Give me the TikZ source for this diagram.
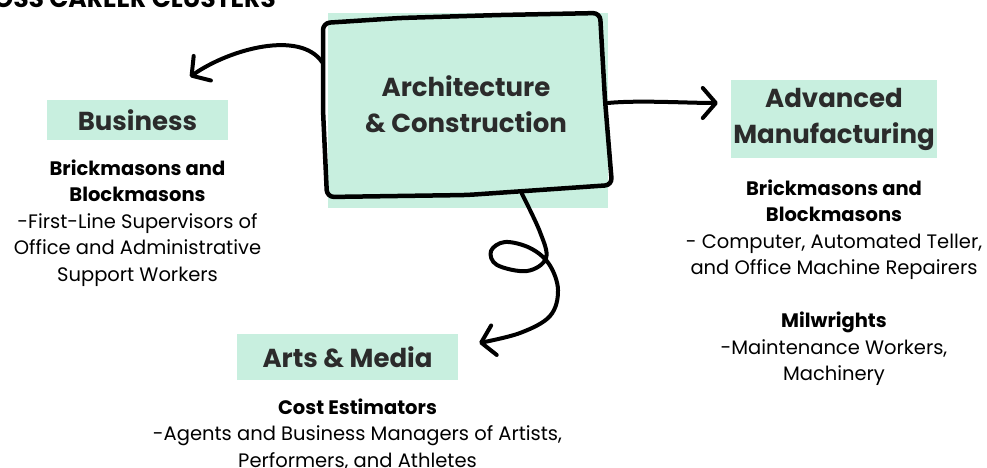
\documentclass[tikz,border=0pt]{standalone}
\usepackage{fontspec}
\setmainfont{Poppins}
\usepackage{xcolor}
\usetikzlibrary{arrows.meta, positioning}
\definecolor{mint}{HTML}{C8EFDF}
\definecolor{ink}{HTML}{2B2B2B}

\begin{document}
\begin{tikzpicture}[
    x=1pt, y=-1pt,
    box/.style={rectangle, fill=mint, text=ink, align=center, inner sep=0pt, font=\fontsize{26}{36}\selectfont\bfseries},
    body/.style={align=center, inner sep=0pt, text=black, font=\fontsize{19.5}{26.5}\selectfont},
    line/.style={draw, line width=4pt, line cap=round, line join=round, -{Straight Barb[length=13pt, width=30pt, round]}},
    outline/.style={draw, line width=4.5pt, rounded corners=7pt, line join=round},
    title/.style={inner sep=0pt, font=\fontsize{25}{30}\selectfont\bfseries}
]
    \useasboundingbox (0,0) rectangle (987,467);
    \clip (0,0) rectangle (987,467);

    % Title (cut by the top edge)
    \node [title, anchor=base east] (title) at (276,7) {ACROSS CAREER CLUSTERS};

    % Centre cluster
    \node [box, minimum width=280pt, minimum height=195pt] (arch) at (468,110) {};
    \node [box, fill=none] (archname) at ([shift={(-2,-6)}]arch.center) {Architecture\\\& Construction};
    \draw [outline] ([shift={(-145,-87)}]arch.center) -- ([shift={(-68,-92)}]arch.center)
        -- ([shift={(32,-95)}]arch.center) -- ([shift={(132,-97)}]arch.center)
        -- ([shift={(137,-10)}]arch.center) -- ([shift={(144,75)}]arch.center)
        -- ([shift={(-1,85)}]arch.center) -- ([shift={(-141,87)}]arch.center)
        -- ([shift={(-145,0)}]arch.center) -- cycle;

    % Related clusters
    \node [box, minimum width=181pt, minimum height=40pt] (business) at (137.5,120) {Business};
    \node [box, minimum width=206pt, minimum height=78pt] (advanced) at (834,119) {Advanced\\Manufacturing};
    \node [box, minimum width=221pt, minimum height=46pt] (arts) at (347.5,357) {Arts \& Media};

    % Occupations
    \node [body, below=19pt of business] (businessjobs) {\textbf{Brickmasons and}\\\textbf{Blockmasons}\\-First-Line Supervisors of\\Office and Administrative\\Support Workers};
    \node [body, below=21pt of advanced] (advancedjobs) {\textbf{Brickmasons and}\\\textbf{Blockmasons}\\- Computer, Automated Teller,\\and Office Machine Repairers\\[26.5pt]\textbf{Milwrights}\\-Maintenance Workers,\\Machinery};
    \node [body, below=18pt of arts, xshift=10pt] (artsjobs) {\textbf{Cost Estimators}\\-Agents and Business Managers of Artists,\\Performers, and Athletes};

    % Connectors
    \draw [line] ([shift={(-146,-48)}]arch.center) .. controls +(-22,-32) and +(40,-28) .. ([shift={(52.5,-23)}]business.north);
    \draw [line] ([shift={(140,-7)}]arch.center) .. controls +(30,-3) and +(-30,0) .. ([shift={(-13,-16)}]advanced.west);
    \draw [line] plot [smooth, tension=0.6] coordinates {([shift={(54,84)}]arch.center) (540,232) (546,258) (527,271) (497,265) (491,251) (505,242) (530,248) (549,264) (558,290) (550,316) (520,333) ([shift={(21,-14)}]arts.east)};

\end{tikzpicture}
\end{document}
